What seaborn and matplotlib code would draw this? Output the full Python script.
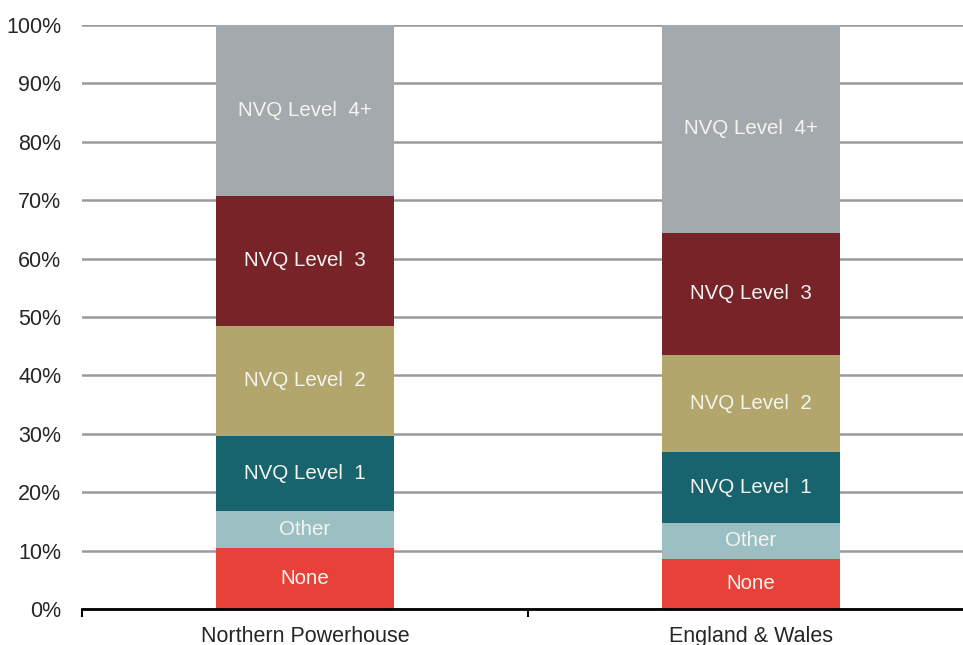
import numpy as np
import pandas as pd
import matplotlib
matplotlib.use("Agg")
import matplotlib.pyplot as plt
import seaborn as sns

# Data (share of working-age population by highest qualification, %)
regions = ["Northern Powerhouse", "England & Wales"]
levels = ["None", "Other", "NVQ Level  1", "NVQ Level  2", "NVQ Level  3", "NVQ Level  4+"]
none_pct = [10.5, 8.6]
other_pct = [6.3, 6.2]
level1_pct = [12.9, 12.0]
level2_pct = [18.7, 16.7]
level3_pct = [22.4, 20.9]
level4_pct = [29.2, 35.6]

colors = ["#E8413A", "#9BBFC3", "#17646E", "#B2A66C", "#772328", "#A3A9AC"]

sns.set_style("white")
plt.rcParams["font.family"] = ["Liberation Sans", "DejaVu Sans"]

fig = plt.figure(figsize=(9.63, 6.45), dpi=100)
ax = fig.add_axes([82 / 963, 36 / 645, 892 / 963, 584 / 645])

series = [none_pct, other_pct, level1_pct, level2_pct, level3_pct, level4_pct]
bottoms = np.zeros(len(regions))
for name, vals, col in zip(levels, series, colors):
    vals = np.array(vals)
    sns.barplot(x=regions, y=vals, bottom=bottoms, color=col, width=0.4,
                ax=ax, saturation=1, zorder=3, edgecolor="none")
    for i, v in enumerate(vals):
        ax.text(i, bottoms[i] + v / 2, name, ha="center", va="center",
                color="#F4F4F0", fontsize=14.8, zorder=4)
    bottoms = bottoms + vals

ax.set_xlim(-0.5, 1.5)
ax.set_ylim(0, 100)
ax.set_yticks(range(0, 101, 10))
ax.set_yticklabels([f"{t}%" for t in range(0, 101, 10)], fontsize=15.5)
ax.yaxis.grid(True, color="#9A9A9A", linewidth=1.8, zorder=0)
ax.tick_params(axis="y", length=0, pad=15)
ax.tick_params(axis="x", which="major", bottom=False, length=0, labelsize=15.5, pad=12)
ax.set_xticks([-0.5, 0.5, 1.5], minor=True)
ax.tick_params(axis="x", which="minor", bottom=True, length=6, width=1.5,
               color="black", direction="out")
ax.set_xlabel("")
ax.set_ylabel("")

for s in ["top", "right", "left"]:
    ax.spines[s].set_visible(False)
ax.spines["bottom"].set_color("black")
ax.spines["bottom"].set_linewidth(2)
ax.spines["bottom"].set_zorder(5)

fig.savefig("out.png", dpi=100)
